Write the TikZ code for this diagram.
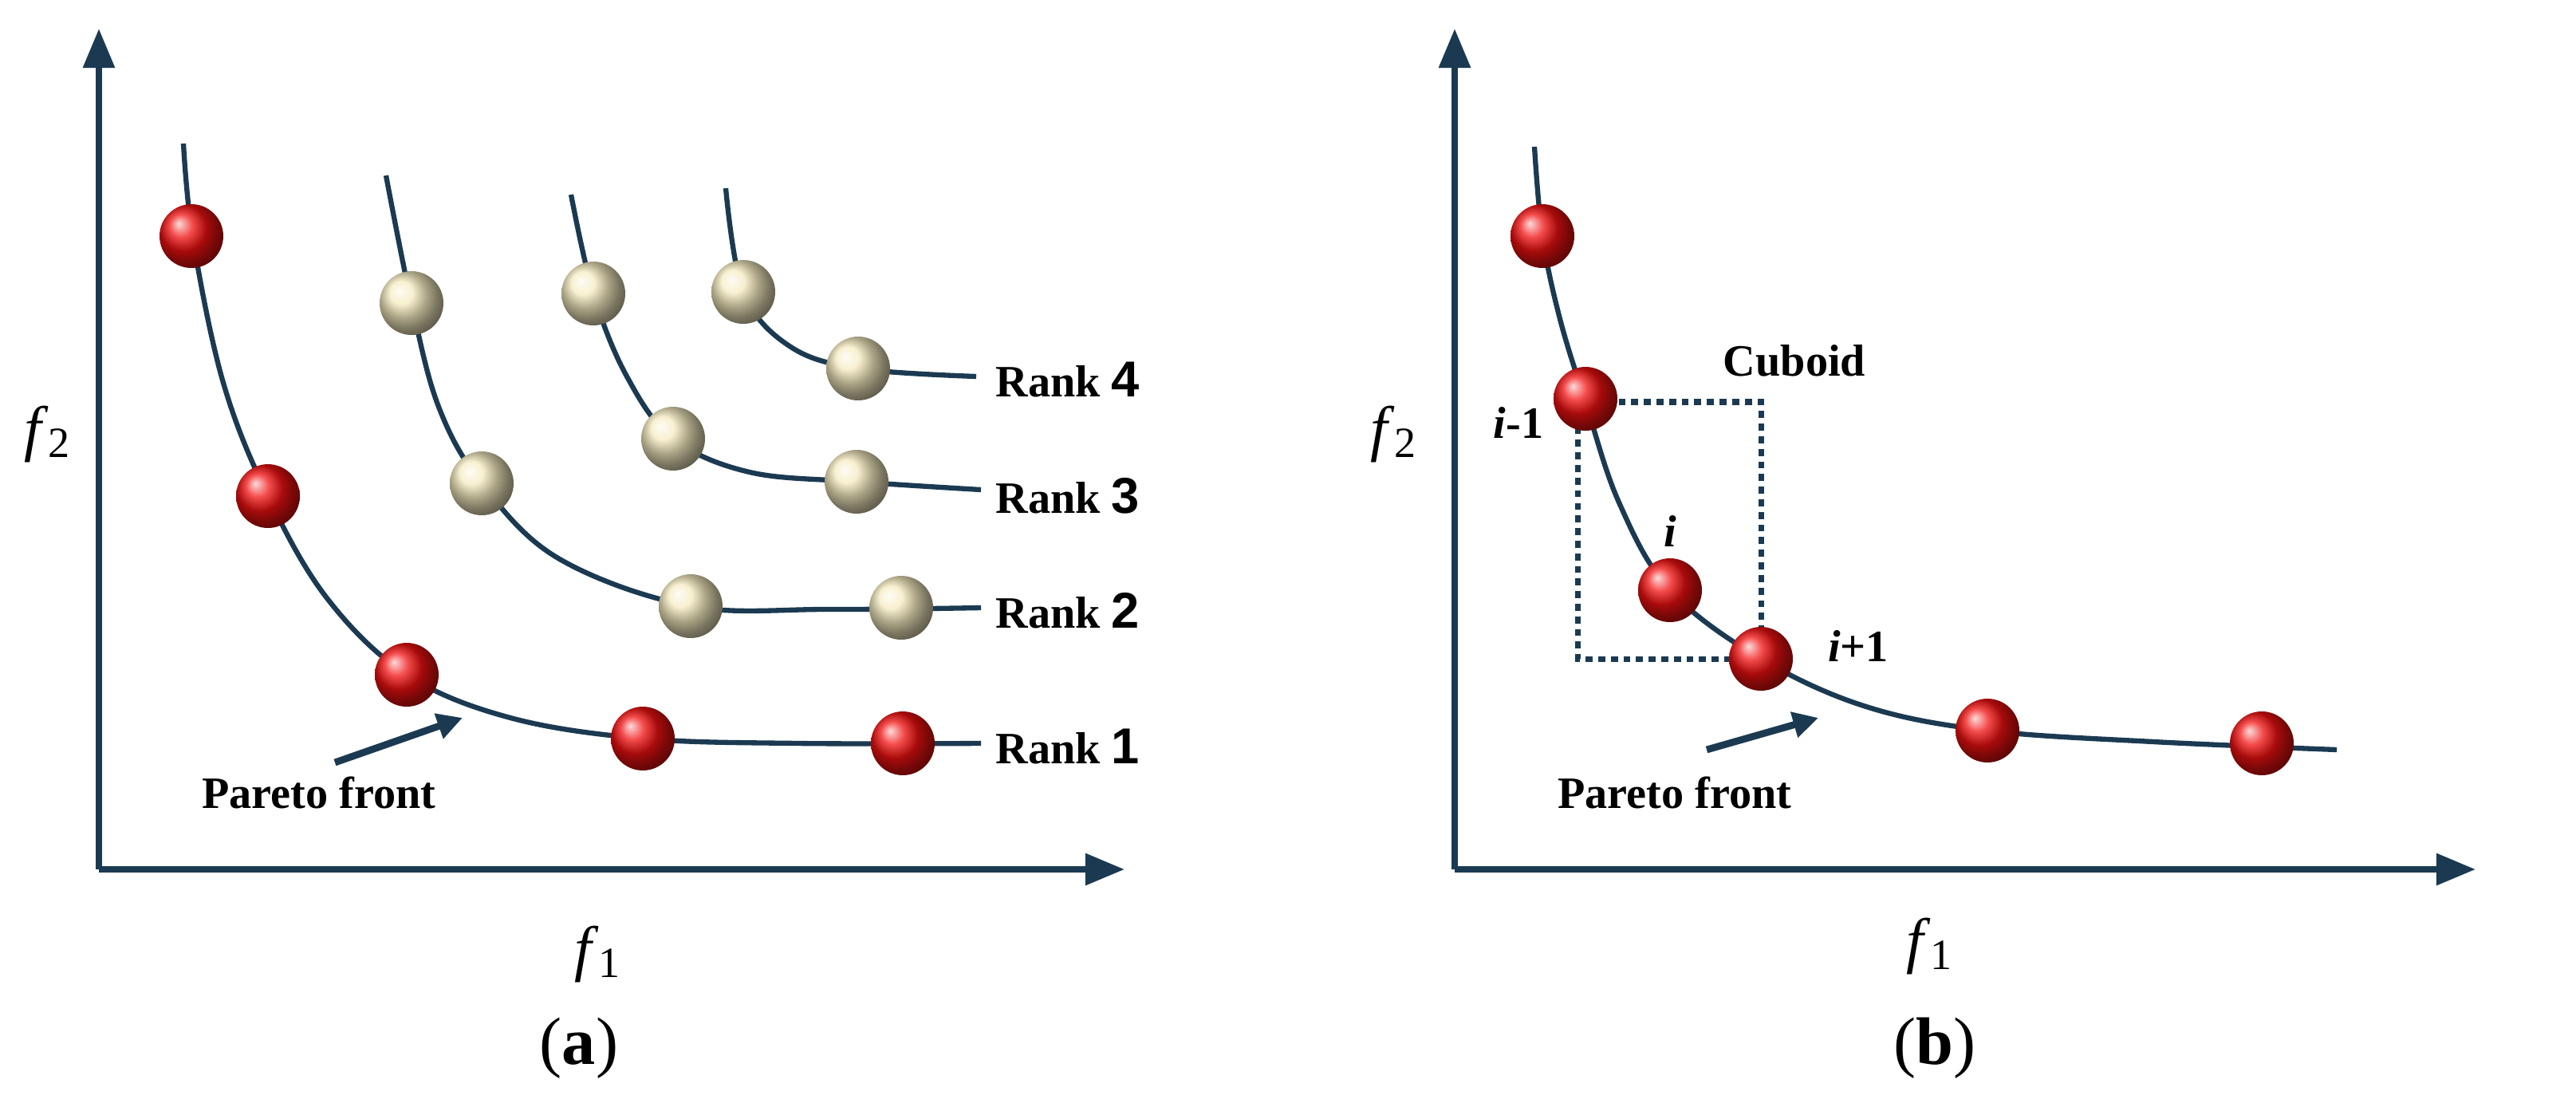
\documentclass[tikz,border=0pt]{standalone}
\usepackage{fontspec}
\setmainfont{Liberation Serif}
\newfontfamily\sansb{Liberation Sans}
\usetikzlibrary{arrows.meta}
\definecolor{navy}{HTML}{1B3A52}
\definecolor{cream}{HTML}{F5EBC0}
\definecolor{redb}{HTML}{F01010}
\begin{document}
\begin{tikzpicture}[x=0.02cm,y=-0.02cm,
 axis/.style={navy,line width=2.2pt,-{Triangle[length=14pt,width=11pt]}},
 crv/.style={navy,line width=1.8pt},
 rb/.style={circle,minimum size=0.8cm,inner sep=0pt,shading=ball,ball color=redb},
 cb/.style={circle,minimum size=0.8cm,inner sep=0pt,shading=ball,ball color=cream},
 lab/.style={font=\fontsize{16}{18}\selectfont\bfseries},
 fl/.style={font=\fontsize{22}{24}\selectfont},
 captxt/.style={font=\fontsize{24}{28}\selectfont}]
\useasboundingbox (0,0) rectangle (1615,698.5);
% panel a
\coordinate (o1) at (62,545);
\coordinate (ya) at (62,18);
\coordinate (xa) at (705,545);
\draw[axis] (o1) -- (ya);
\draw[axis] (o1) -- (xa);
\node[fl] (f2a) at (30,272) {\textit{f}\textsubscript{2}};
\node[fl] (f1a) at (375,598) {\textit{f}\textsubscript{1}};
\node[captxt] (capa) at (363,657) {(\textbf{a})};
\draw[crv] plot[smooth,tension=0.6] coordinates {(115,90) (121,150) (140,240) (168,311) (205,375) (255,423) (320,450) (403,463) (500,466) (615,466)};
\draw[crv] plot[smooth,tension=0.6] coordinates {(242,110) (258,190) (275,255) (302,303) (350,350) (433,380) (520,382) (615,381)};
\draw[crv] plot[smooth,tension=0.6] coordinates {(358,122) (372,184) (393,236) (422,275) (470,296) (537,302) (615,307)};
\draw[crv] plot[smooth,tension=0.6] coordinates {(455,118) (466,183) (495,217) (538,231) (612,236)};
\node[rb] (r1) at (120,148) {};
\node[rb] (r2) at (168,311) {};
\node[rb] (r3) at (255,423) {};
\node[rb] (r4) at (403,463) {};
\node[rb] (r5) at (566,466) {};
\node[cb] (c1) at (258,190) {};
\node[cb] (c2) at (302,303) {};
\node[cb] (c3) at (433,380) {};
\node[cb] (c4) at (565,381) {};
\node[cb] (c5) at (372,184) {};
\node[cb] (c6) at (422,275) {};
\node[cb] (c7) at (537,302) {};
\node[cb] (c8) at (466,183) {};
\node[cb] (c9) at (538,231) {};
\node[lab,anchor=west] (k1) at (618,468) {Rank {\sansb\fontsize{18}{20}\selectfont 1}};
\node[lab,anchor=west] (k2) at (618,383) {Rank {\sansb\fontsize{18}{20}\selectfont 2}};
\node[lab,anchor=west] (k3) at (618,311) {Rank {\sansb\fontsize{18}{20}\selectfont 3}};
\node[lab,anchor=west] (k4) at (618,238) {Rank {\sansb\fontsize{18}{20}\selectfont 4}};
\node[lab] (pa) at (200,497) {Pareto front};
\coordinate (pa1) at (210,478);
\coordinate (pa2) at (290,450);
\draw[navy,line width=2.5pt,-{Triangle[length=9pt,width=9pt]}] (pa1) -- (pa2);
% panel b
\coordinate (o2) at (912,545);
\coordinate (yb) at (912,18);
\coordinate (xb) at (1552,545);
\draw[axis] (o2) -- (yb);
\draw[axis] (o2) -- (xb);
\node[fl] (f2b) at (874,272) {\textit{f}\textsubscript{2}};
\node[fl] (f1b) at (1210,593) {\textit{f}\textsubscript{1}};
\node[captxt] (capb) at (1213,657) {(\textbf{b})};
\draw[navy,line width=2pt,dash pattern=on 2.5pt off 2pt] (989,252) rectangle (1104,413);
\draw[crv] plot[smooth,tension=0.6] coordinates {(962,92) (967,148) (978,200) (994,252) (1015,315) (1047,370) (1104,413) (1170,443) (1246,458) (1350,465) (1465,470)};
\node[rb] (b1) at (967,148) {};
\node[rb] (b2) at (994,250) {};
\node[rb] (b3) at (1047,370) {};
\node[rb] (b4) at (1104,413) {};
\node[rb] (b5) at (1246,458) {};
\node[rb] (b6) at (1418,466) {};
\node[lab] (cu) at (1125,226) {Cuboid};
\node[lab] (im) at (952,265) {\textit{i}-1};
\node[lab] (ii) at (1047,333) {\textit{i}};
\node[lab] (ip) at (1165,405) {\textit{i}+1};
\node[lab] (pb) at (1050,497) {Pareto front};
\coordinate (pb1) at (1070,470);
\coordinate (pb2) at (1140,450);
\draw[navy,line width=2.5pt,-{Triangle[length=9pt,width=9pt]}] (pb1) -- (pb2);
\end{tikzpicture}
\end{document}
